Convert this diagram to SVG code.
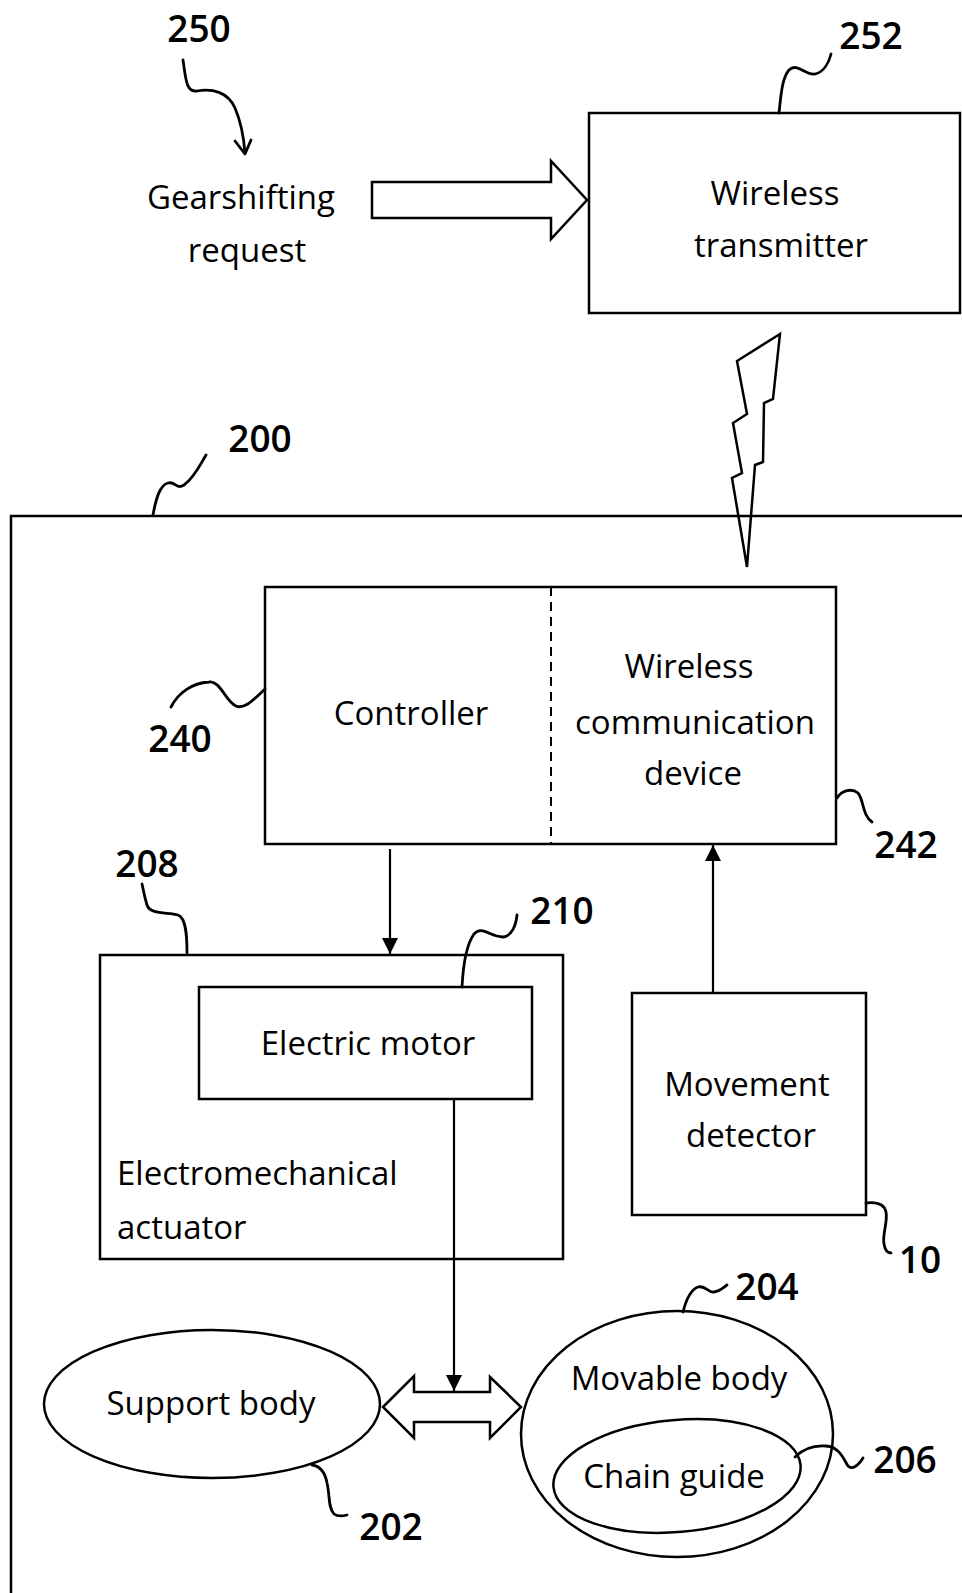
<svg xmlns="http://www.w3.org/2000/svg" width="962" height="1593" viewBox="0 0 962 1593">
<style>
  .box { fill: none; stroke: #000; stroke-width: 2.5; }
  .line { fill: none; stroke: #000; stroke-width: 2.2; }
  .lead { fill: none; stroke: #000; stroke-width: 2.8; stroke-linecap: round; stroke-linejoin: round; }
  .t { font-family: "Open Sans", "Liberation Sans", sans-serif; font-size: 33px; fill: #000; }
  .c { text-anchor: middle; }
  .num { font-family: "Open Sans", "Liberation Sans", sans-serif; font-size: 37px; font-weight: 600; fill: #000; text-anchor: middle; }
</style>
<defs>
  <marker id="ah" markerUnits="userSpaceOnUse" markerWidth="16" markerHeight="16" refX="16" refY="8" orient="auto">
    <path d="M0,0 L16,8 L0,16 z" fill="#000"/>
  </marker>
</defs>
<rect width="962" height="1593" fill="#fff"/>

<g id="n200">
  <rect class="box" x="11" y="516" width="1000" height="1200"/>
  <path class="lead" d="M153,515 C156,498 160,485 168,483 C176,481 176,490 184,485 C194,478 200,465 206,455"/>
  <text class="num" x="260" y="452">200</text>
</g>

<g id="n250">
  <text class="t c" x="241" y="209">Gearshifting</text>
  <text class="t c" x="247" y="262">request</text>
  <path class="lead" d="M183,60 C186,80 186,92 197,91 C212,88 228,92 235,108 C241,122 244,140 245,153"/>
  <path class="lead" d="M235,141 L245,154 L251,140"/>
  <text class="num" x="199" y="42">250</text>
</g>

<g id="n252">
  <rect class="box" x="589" y="113" width="371" height="200"/>
  <text class="t c" x="775" y="205">Wireless</text>
  <text class="t c" x="781" y="257">transmitter</text>
  <path class="lead" d="M779,113 C781,95 782,78 789,70 C797,62 806,76 815,74 C824,72 829,62 831,54"/>
  <text class="num" x="871" y="49">252</text>
</g>

<g id="n240">
  <rect class="box" x="265" y="587" width="571" height="257"/>
  <line x1="551" y1="587" x2="551" y2="844" stroke="#000" stroke-width="2" stroke-dasharray="9,6"/>
  <text class="t c" x="411" y="725">Controller</text>
  <path class="lead" d="M265,689 C255,698 245,710 236,706 C226,702 220,680 209,682 C192,683 178,693 171,707"/>
  <text class="num" x="180" y="752">240</text>
</g>

<g id="n242">
  <text class="t c" x="689" y="678">Wireless</text>
  <text class="t c" x="695" y="734">communication</text>
  <text class="t c" x="693" y="785">device</text>
  <path class="lead" d="M837,798 C842,790 852,788 858,793 C864,800 862,815 872,822"/>
  <text class="num" x="906" y="858">242</text>
</g>

<g id="n208">
  <rect class="box" x="100" y="955" width="463" height="304"/>
  <text class="t" x="117" y="1185">Electromechanical</text>
  <text class="t" x="117" y="1239">actuator</text>
  <path class="lead" d="M187,953 C187,935 186,918 178,915 C168,912 150,915 147,905 C144,895 143,888 142,884"/>
  <text class="num" x="147" y="877">208</text>
</g>

<g id="n210">
  <rect class="box" x="199" y="987" width="333" height="112"/>
  <text class="t c" x="368" y="1055">Electric motor</text>
  <path class="lead" d="M462,987 C463,968 466,945 474,934 C482,925 490,937 503,937 C512,936 516,925 517,915"/>
  <text class="num" x="562" y="924">210</text>
</g>

<g id="n10">
  <rect class="box" x="632" y="993" width="234" height="222"/>
  <text class="t c" x="747" y="1096">Movement</text>
  <text class="t c" x="751" y="1147">detector</text>
  <path class="lead" d="M866,1203 C875,1202 884,1203 886,1212 C888,1222 882,1235 884,1244 C885,1250 888,1253 891,1253"/>
  <text class="num" x="920" y="1273">10</text>
</g>

<g id="n202">
  <ellipse class="box" cx="212" cy="1404" rx="168" ry="74"/>
  <text class="t c" x="211" y="1415">Support body</text>
  <path class="lead" d="M312,1465 C320,1466 325,1472 327,1483 C330,1495 328,1508 334,1514 C338,1517 343,1516 347,1515"/>
  <text class="num" x="391" y="1540">202</text>
</g>

<g id="n204">
  <ellipse class="box" cx="677" cy="1434" rx="156" ry="123"/>
  <text class="t c" x="679" y="1390">Movable body</text>
  <path class="lead" d="M683,1312 C686,1300 690,1290 698,1287 C706,1285 708,1293 714,1292 C720,1291 724,1287 727,1285"/>
  <text class="num" x="767" y="1300">204</text>
</g>

<g id="n206">
  <ellipse class="box" cx="677" cy="1476" rx="124" ry="56" transform="rotate(-5 677 1476)"/>
  <text class="t c" x="674" y="1488">Chain guide</text>
  <path class="lead" d="M795,1457 C802,1450 812,1445 826,1446 C840,1447 844,1460 848,1466 C852,1470 858,1466 863,1458"/>
  <text class="num" x="905" y="1473">206</text>
</g>

<g id="connectors">
  <polygon class="box" points="372,182 551,182 551,161 587,200 551,239 551,218 372,218"/>
  <polygon class="box" points="780,334 737,361 747,414 733,423 742,473 732,478 747,567 755,465 763,462 764,403 773,399"/>
  <line class="line" x1="390" y1="849" x2="390" y2="954" marker-end="url(#ah)"/>
  <line class="line" x1="713" y1="993" x2="713" y2="845" marker-end="url(#ah)"/>
  <line class="line" x1="454" y1="1099" x2="454" y2="1391" marker-end="url(#ah)"/>
  <polygon class="box" points="383,1407 414,1376 414,1392 490,1392 490,1377 521,1407 490,1438 490,1422 414,1422 414,1438"/>
</g>
</svg>
